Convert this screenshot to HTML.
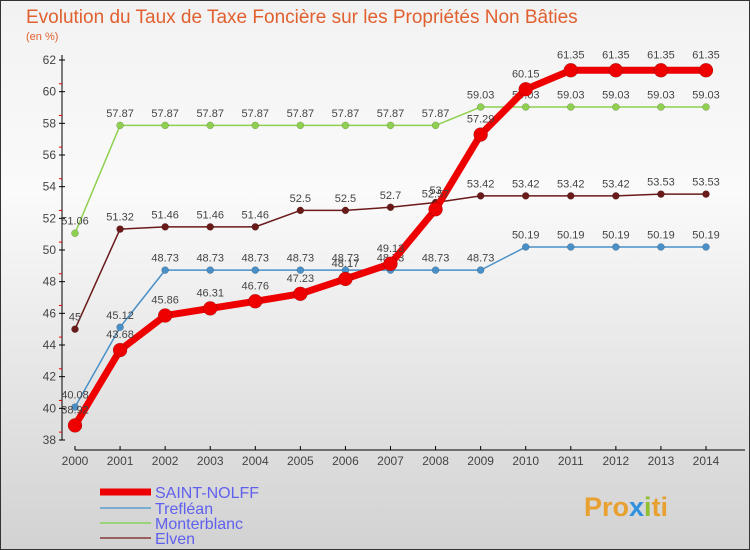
<!DOCTYPE html>
<html><head><meta charset="utf-8"><style>
body{margin:0;}
#wrap{position:relative;width:750px;height:550px;overflow:hidden;font-family:"Liberation Sans",sans-serif;}
svg text{font-family:"Liberation Sans",sans-serif;}
</style></head><body>
<div id="wrap">
<svg id="chart" width="750" height="550">
<defs><linearGradient id="bg" x1="0" y1="0" x2="0" y2="1"><stop offset="0" stop-color="#f2f2f2"/><stop offset="0.35" stop-color="#fafafa"/><stop offset="1" stop-color="#d2d2d2"/></linearGradient></defs>
<rect x="0.5" y="0.5" width="749" height="549" fill="url(#bg)" stroke="#333"/>
<text x="26" y="23" font-size="19" fill="#e06030">Evolution du Taux de Taxe Foncière sur les Propriétés Non Bâties</text>
<text x="26" y="40" font-size="11" fill="#e06030">(en %)</text>
<g id="axes"></g><g id="series"></g><g id="legend"></g>
<text x="584" y="516" font-size="27" font-weight="bold" fill="#e8a030">Pro<tspan fill="#3090e0">x</tspan><tspan fill="#90c030">i</tspan><tspan fill="#e8a030">ti</tspan></text>
</svg>
</div>
<script>
const years=[2000,2001,2002,2003,2004,2005,2006,2007,2008,2009,2010,2011,2012,2013,2014];
const yTicks=[38,40,42,44,46,48,50,52,54,56,58,60,62];
const saintNolff=[38.92,43.68,45.86,46.31,46.76,47.23,48.17,49.13,52.57,57.29,60.15,61.35,61.35,61.35,61.35];
const trefleanV=[40.08,45.12,48.73,48.73,48.73,48.73,48.73,48.73,48.73,48.73,50.19,50.19,50.19,50.19,50.19];
const monterblanc=[51.06,57.87,57.87,57.87,57.87,57.87,57.87,57.87,57.87,59.03,59.03,59.03,59.03,59.03,59.03];
const elven=[45,51.32,51.46,51.46,51.46,52.5,52.5,52.7,53,53.42,53.42,53.42,53.42,53.53,53.53];
const NS="http://www.w3.org/2000/svg";
const xS=i=>75+i*(706-75)/(years.length-1);
const yS=v=>440-(v-38)*(380/24);
function mk(tag,attrs,parent){const e=document.createElementNS(NS,tag);for(const k in attrs)e.setAttribute(k,attrs[k]);parent.appendChild(e);return e;}
const axes=document.getElementById('axes');
let yl=mk('line',{x1:62,y1:55,x2:62,y2:440,stroke:'#000'},axes);


yTicks.forEach(t=>{
 const y=yS(t);
 mk('line',{x1:59,y1:y,x2:65,y2:y,stroke:'#000'},axes);
 if(t<62){const m=mk('line',{x1:59,y1:y-7.9,x2:62,y2:y-7.9,stroke:'#e00'},axes);}
 const tx=mk('text',{x:56,y:y+4,'font-size':12,'text-anchor':'end',fill:'#444'},axes);
 tx.textContent=t;
 
 
});
let xl=mk('line',{x1:75,y1:450,x2:745,y2:450,stroke:'#000'},axes);


years.forEach((yr,i)=>{
 const x=xS(i);
 mk('line',{x1:x,y1:446,x2:x,y2:450,stroke:'#000'},axes);
 const tx=mk('text',{x:x,y:465,'font-size':12,'text-anchor':'middle',fill:'#444'},axes);
 tx.textContent=yr;
 
 
});
const series=[
 {name:'elven',vals:elven,color:'#6b1a1a',w:1.5,r:3.5},
 {name:'monterblanc',vals:monterblanc,color:'#8fd050',w:1.5,r:3.5},
 {name:'treflean',vals:trefleanV,color:'#4a90c8',w:1.5,r:3.5},
 {name:'saint-nolff',vals:saintNolff,color:'#ee0000',w:7,r:7}
];
const sg=document.getElementById('series');
series.forEach(s=>{
 const g=mk('g',{},sg);
 
 
 const pts=s.vals.map((v,i)=>xS(i)+','+yS(v)).join(' ');
 const pl=mk('polyline',{points:pts,fill:'none',stroke:s.color,'stroke-width':s.w,'stroke-linejoin':'round'},g);
 
 
 s.vals.forEach((v,i)=>{
  const c=mk('circle',{cx:xS(i),cy:yS(v),r:s.r,fill:s.color,stroke:'rgba(0,0,0,0.3)','stroke-width':0.5},g);
  
  
  const t=mk('text',{x:xS(i),y:yS(v)-(s.r+5),'font-size':11,'text-anchor':'middle',fill:'#444'},g);
  t.textContent=String(v);
  
  
 });
});
const lg=document.getElementById('legend');
const leg=[['SAINT-NOLFF','#ee0000',7,492],['Trefléan','#7aaed0',2,508],['Monterblanc','#9ad47a',2,523],['Elven','#9a6060',2,538]];
leg.forEach(l=>{
 const g=mk('g',{},lg);
 
 
 mk('line',{x1:100,y1:l[3],x2:151,y2:l[3],stroke:l[1],'stroke-width':l[2]},g);
 const t=mk('text',{x:155,y:l[3]+6,'font-size':16,fill:'#6060ee'},g);
 t.textContent=l[0];
});
</script>
</body></html>
